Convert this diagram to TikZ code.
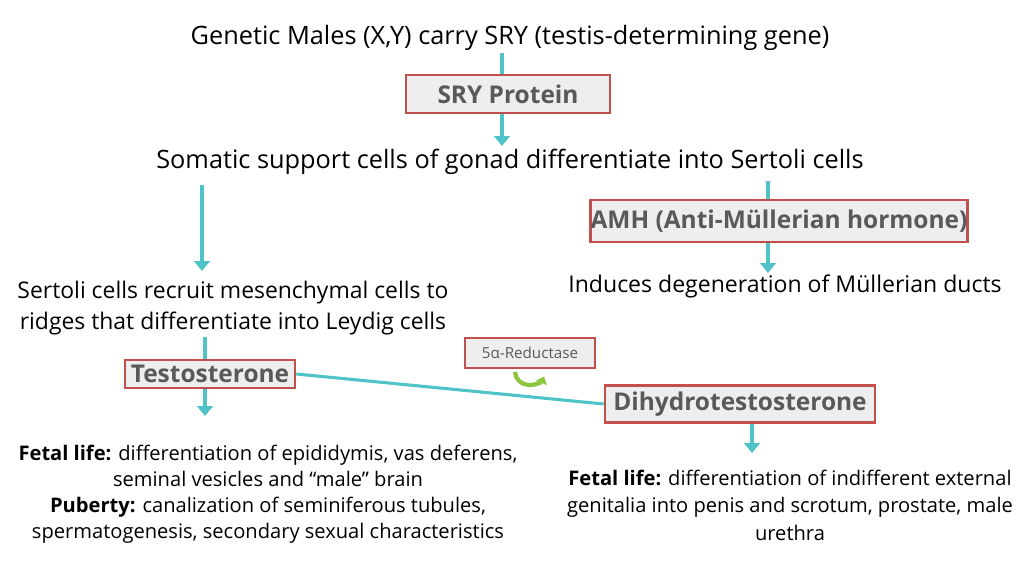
\documentclass[tikz,border=0pt]{standalone}
\usepackage{fontspec}
\setmainfont{Open Sans}
\usetikzlibrary{arrows.meta}
\definecolor{flowteal}{HTML}{4FC3C7}
\definecolor{boxred}{HTML}{C0504D}
\definecolor{boxgray}{HTML}{EEEEEE}
\definecolor{textgray}{HTML}{595959}
\definecolor{cyclegreen}{HTML}{8CC63F}
\begin{document}
\begin{tikzpicture}[x=0.025cm,y=-0.025cm,
  flow/.style={flowteal, line width=2.2pt},
  flowarrow/.style={flow, -{Triangle[length=7pt,width=11pt]}},
  keybox/.style={draw=boxred, line width=1.8pt, fill=boxgray, text=textgray,
    font=\fontsize{17.4}{20}\selectfont\bfseries, inner sep=0pt},
  plain/.style={align=center, font=\fontsize{16.4}{22}\selectfont}]
\useasboundingbox (0,0) rectangle (1024,577);

% top of the cascade
\node[plain, font=\fontsize{18}{22}\selectfont] (genetic) at (510,38) {Genetic Males (X,Y) carry SRY (testis-determining gene)};
\node[keybox, minimum width=5.1cm, minimum height=0.95cm] (srybox) at (508,94) {SRY Protein};
\node[plain, font=\fontsize{18}{22}\selectfont] (somatic) at (510,162) {Somatic support cells of gonad differentiate into Sertoli cells};
\draw[flow] (502,53) -- (srybox.north -| 502,0);
\draw[flowarrow] (srybox.south -| 502,0) -- (502,146);

% right branch
\node[keybox, minimum width=9.1cm, minimum height=1.05cm] (amh) at (779,221) {AMH (Anti-Müllerian hormone)};
\node[plain] (induces) at (785,286) {Induces degeneration of Müllerian ducts};
\draw[flow] (768,181) -- (amh.north -| 768,0);
\draw[flowarrow] (amh.south -| 768,0) -- (768,273);

% left branch
\draw[flowarrow] (202,185) -- (202,271);
\node[plain, font=\fontsize{16.3}{22.5}\selectfont] (sertoli) at (233,308) {Sertoli cells recruit mesenchymal cells to\\ridges that differentiate into Leydig cells};
\node[keybox, minimum width=4.25cm, minimum height=0.7cm] (testo) at (210,374) {Testosterone};
\draw[flow] (205,337) -- (testo.north -| 205,0);
\draw[flowarrow] (testo.south -| 205,0) -- (205,416);

% conversion
\node[keybox, minimum width=6.75cm, minimum height=0.93cm] (dht) at (740,404) {Dihydrotestosterone};
\draw[flow] (testo.east) -- (dht.west);
\node[keybox, line width=1.4pt, font=\fontsize{10.8}{12}\selectfont, minimum width=3.25cm, minimum height=0.75cm] (reductase) at (530,353) {5α-Reductase};
\draw[cyclegreen, line width=3pt, -{Triangle[length=5pt,width=8pt]}] (515,372) arc[start angle=180, end angle=20, x radius=15, y radius=13];
\draw[flowarrow] (dht.south -| 752,0) -- (752,453);

% outcomes
\node[plain, font=\fontsize{14.3}{18.4}\selectfont] (fetalleft) at (268,494) {\textbf{Fetal life:} differentiation of epididymis, vas deferens,\\seminal vesicles and “male” brain\\\textbf{Puberty:} canalization of seminiferous tubules,\\spermatogenesis, secondary sexual characteristics};
\node[plain, font=\fontsize{14.3}{19.5}\selectfont] (fetalright) at (790,505) {\textbf{Fetal life:} differentiation of indifferent external\\genitalia into penis and scrotum, prostate, male\\urethra};
\end{tikzpicture}
\end{document}
